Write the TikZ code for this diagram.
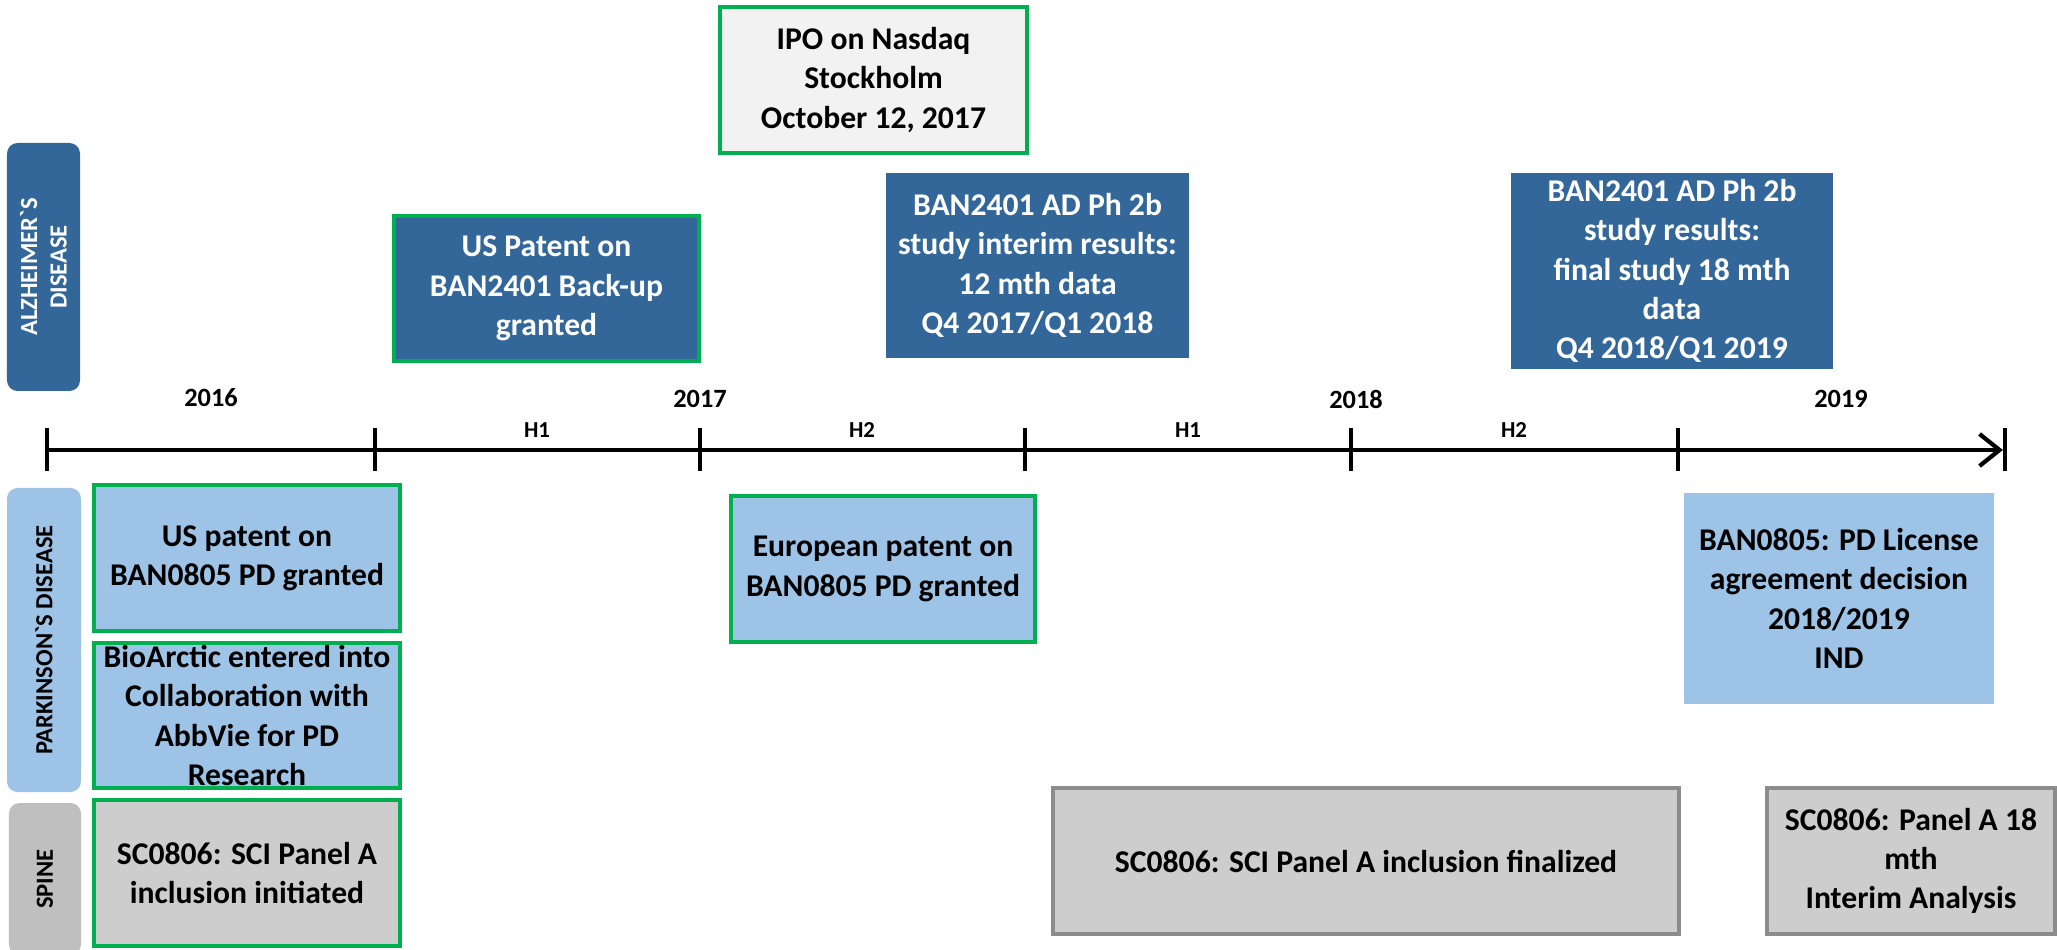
\documentclass[tikz,border=0pt]{standalone}
\usepackage{fontspec}
\setmainfont{Carlito}
\usetikzlibrary{arrows.meta}
\definecolor{adblue}{RGB}{51,103,153}
\definecolor{pdblue}{RGB}{157,195,230}
\definecolor{okgreen}{RGB}{0,176,80}
\definecolor{spinegray}{RGB}{191,191,191}
\definecolor{scgray}{RGB}{205,205,205}
\definecolor{ipogray}{RGB}{242,242,242}
\tikzset{%
  event/.style     = {shape=rectangle, inner sep=0pt, align=center,%
                      font=\fontsize{9}{11.2}\selectfont\bfseries},%
  ad/.style        = {event, fill=adblue, text=white},%
  pd/.style        = {event, fill=pdblue},%
  sc/.style        = {event, fill=scgray, draw=black!45, line width=1pt},%
  milestone/.style = {draw=okgreen, line width=1.3pt},%
  track/.style     = {shape=rectangle, rounded corners=3pt, rotate=90,%
                      inner sep=0pt, align=center,%
                      font=\fontsize{7}{8.4}\selectfont\bfseries},%
  year/.style      = {font=\fontsize{7.5}{9}\selectfont\bfseries},%
  half/.style      = {font=\fontsize{6.5}{7.5}\selectfont\bfseries},%
  axis/.style      = {line width=1.2pt, black}%
}

\begin{document}
\begin{tikzpicture}[y=-1cm]%
	\useasboundingbox (0,0) rectangle (20.57,9.50);%
	% tracks
	\node [track, fill=adblue, text=white, minimum width=2.48cm, minimum height=0.73cm]%
		(adtrack) at (0.435,2.67) {ALZHEIMER\textasciigrave S\\DISEASE};%
	\node [track, fill=pdblue, minimum width=3.04cm, minimum height=0.74cm]%
		(pdtrack) at (0.44,6.40) {PARKINSON\textasciigrave S DISEASE};%
	\node [track, fill=spinegray, minimum width=1.52cm, minimum height=0.72cm]%
		(sptrack) at (0.45,8.79) {SPINE};%
	% time line
	\coordinate (t0) at (0.47,4.50);%
	\coordinate (t1) at (3.75,4.50);%
	\coordinate (t2) at (7.00,4.50);%
	\coordinate (t3) at (10.25,4.50);%
	\coordinate (t4) at (13.51,4.50);%
	\coordinate (t5) at (16.78,4.50);%
	\coordinate (t6) at (20.05,4.50);%
	\draw [axis, -{Straight Barb[length=0.2cm,width=0.32cm]}] (t0) -- ([xshift=-0.6pt]t6);%
	\foreach \t in {t0,t1,t2,t3,t4,t5,t6}%
		\draw [axis] (\t) ++(0,-0.215) -- ++(0,0.43);%
	\node [year] (y2016) at (2.11,3.98) {2016};%
	\node [year] (y2017) at (7.00,3.99) {2017};%
	\node [year] (y2018) at (13.56,3.99) {2018};%
	\node [year] (y2019) at (18.41,3.99) {2019};%
	\node [half] (h1a) at (5.37,4.30) {H1};%
	\node [half] (h2a) at (8.62,4.30) {H2};%
	\node [half] (h1b) at (11.88,4.30) {H1};%
	\node [half] (h2b) at (15.14,4.30) {H2};%
	% events above the line
	\node [ad, milestone, minimum width=3.05cm, minimum height=1.45cm]%
		(usad) at (5.465,2.885) {US Patent on\\BAN2401 Back-up\\granted};%
	\node [event, fill=ipogray, milestone, minimum width=3.07cm, minimum height=1.46cm]%
		(ipo) at (8.735,0.80) {IPO on Nasdaq\\Stockholm\\October 12, 2017};%
	\node [ad, minimum width=3.03cm, minimum height=1.85cm]%
		(interim) at (10.375,2.655) {BAN2401 AD Ph 2b\\study interim results:\\12 mth data\\Q4 2017/Q1 2018};%
	\node [ad, minimum width=3.22cm, minimum height=1.96cm]%
		(final) at (16.72,2.71) {BAN2401 AD Ph 2b\\study results:\\final study 18 mth\\data\\Q4 2018/Q1 2019};%
	% events below the line
	\node [pd, milestone, minimum width=3.06cm, minimum height=1.46cm]%
		(uspd) at (2.47,5.58) {US patent on\\BAN0805 PD granted};%
	\node [pd, milestone, minimum width=3.06cm, minimum height=1.45cm]%
		(abbvie) at (2.47,7.155) {BioArctic entered into\\Collaboration with\\AbbVie for PD\\Research};%
	\node [event, fill=scgray, milestone, minimum width=3.06cm, minimum height=1.46cm]%
		(scstart) at (2.47,8.73) {SC0806: SCI Panel A\\inclusion initiated};%
	\node [pd, milestone, minimum width=3.04cm, minimum height=1.46cm]%
		(eupd) at (8.83,5.69) {European patent on\\BAN0805 PD granted};%
	\node [pd, minimum width=3.10cm, minimum height=2.11cm]%
		(license) at (18.39,5.985) {BAN0805: PD License\\agreement decision\\2018/2019\\IND};%
	\node [sc, minimum width=6.26cm, minimum height=1.46cm]%
		(scdone) at (13.66,8.61) {SC0806: SCI Panel A inclusion finalized};%
	\node [sc, minimum width=2.88cm, minimum height=1.46cm]%
		(scpanel) at (19.11,8.61) {SC0806: Panel A 18\\mth\\Interim Analysis};%
\end{tikzpicture}
\end{document}
